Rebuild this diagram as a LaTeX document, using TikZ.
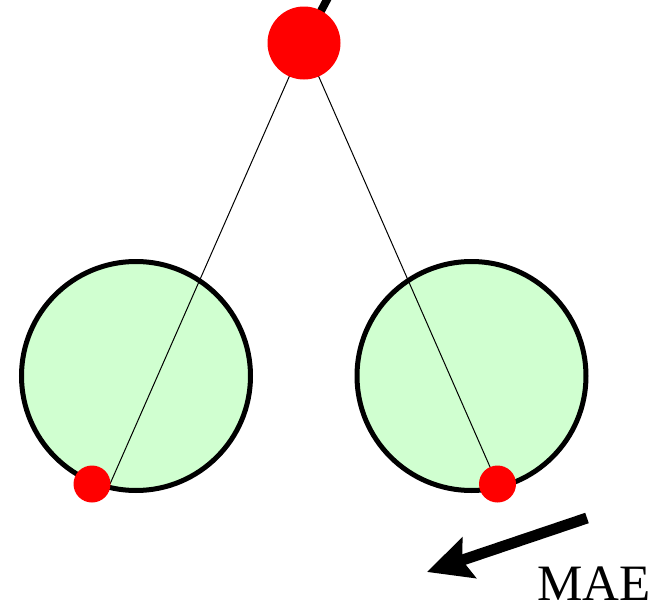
\documentclass[tikz,border=0pt]{standalone}
\usepackage{fontspec}
\setmainfont{Liberation Serif}
\usetikzlibrary{arrows.meta}
\definecolor{lightgreen}{RGB}{208,255,208}
\tikzset{
  ball/.style={fill=red, draw=none},
  wheel/.style={fill=lightgreen, draw=black, line width=5pt},
  rod/.style={draw=black, line width=1pt},
}
\begin{document}
\begin{tikzpicture}[x=1pt,y=-1pt]
\useasboundingbox (0,0) rectangle (657,608);
% wheels
\node[wheel, circle, minimum size=229pt, inner sep=0pt] (wl) at (136,376) {};
\node[wheel, circle, minimum size=229pt, inner sep=0pt] (wr) at (471.5,376) {};
% coordinates
\coordinate (top) at (304,43);
\coordinate (up) at (330,-6);
\coordinate (le) at (110,484);
\coordinate (re) at (497.5,484);
% strings
\draw[line width=8pt] (top) -- (up);
\draw[rod] (top) -- (le);
\draw[rod] (top) -- (re);
% balls
\node[ball, circle, minimum size=73pt, inner sep=0pt] (tb) at (top) {};
\node[ball, circle, minimum size=37pt, inner sep=0pt] (lb) at (92,484) {};
\node[ball, circle, minimum size=37pt, inner sep=0pt] (rb) at (re) {};
% arrow
\coordinate (as) at (587,518);
\coordinate (ae) at (427,572);
\draw[line width=11pt, -{Stealth[length=44pt, width=42pt, inset=7pt]}] (as) -- (ae);
\node[anchor=base west, inner sep=0pt, text depth=0pt, font=\fontsize{51}{51}\selectfont] (mae) at (537,600) {MAE};
\end{tikzpicture}
\end{document}
